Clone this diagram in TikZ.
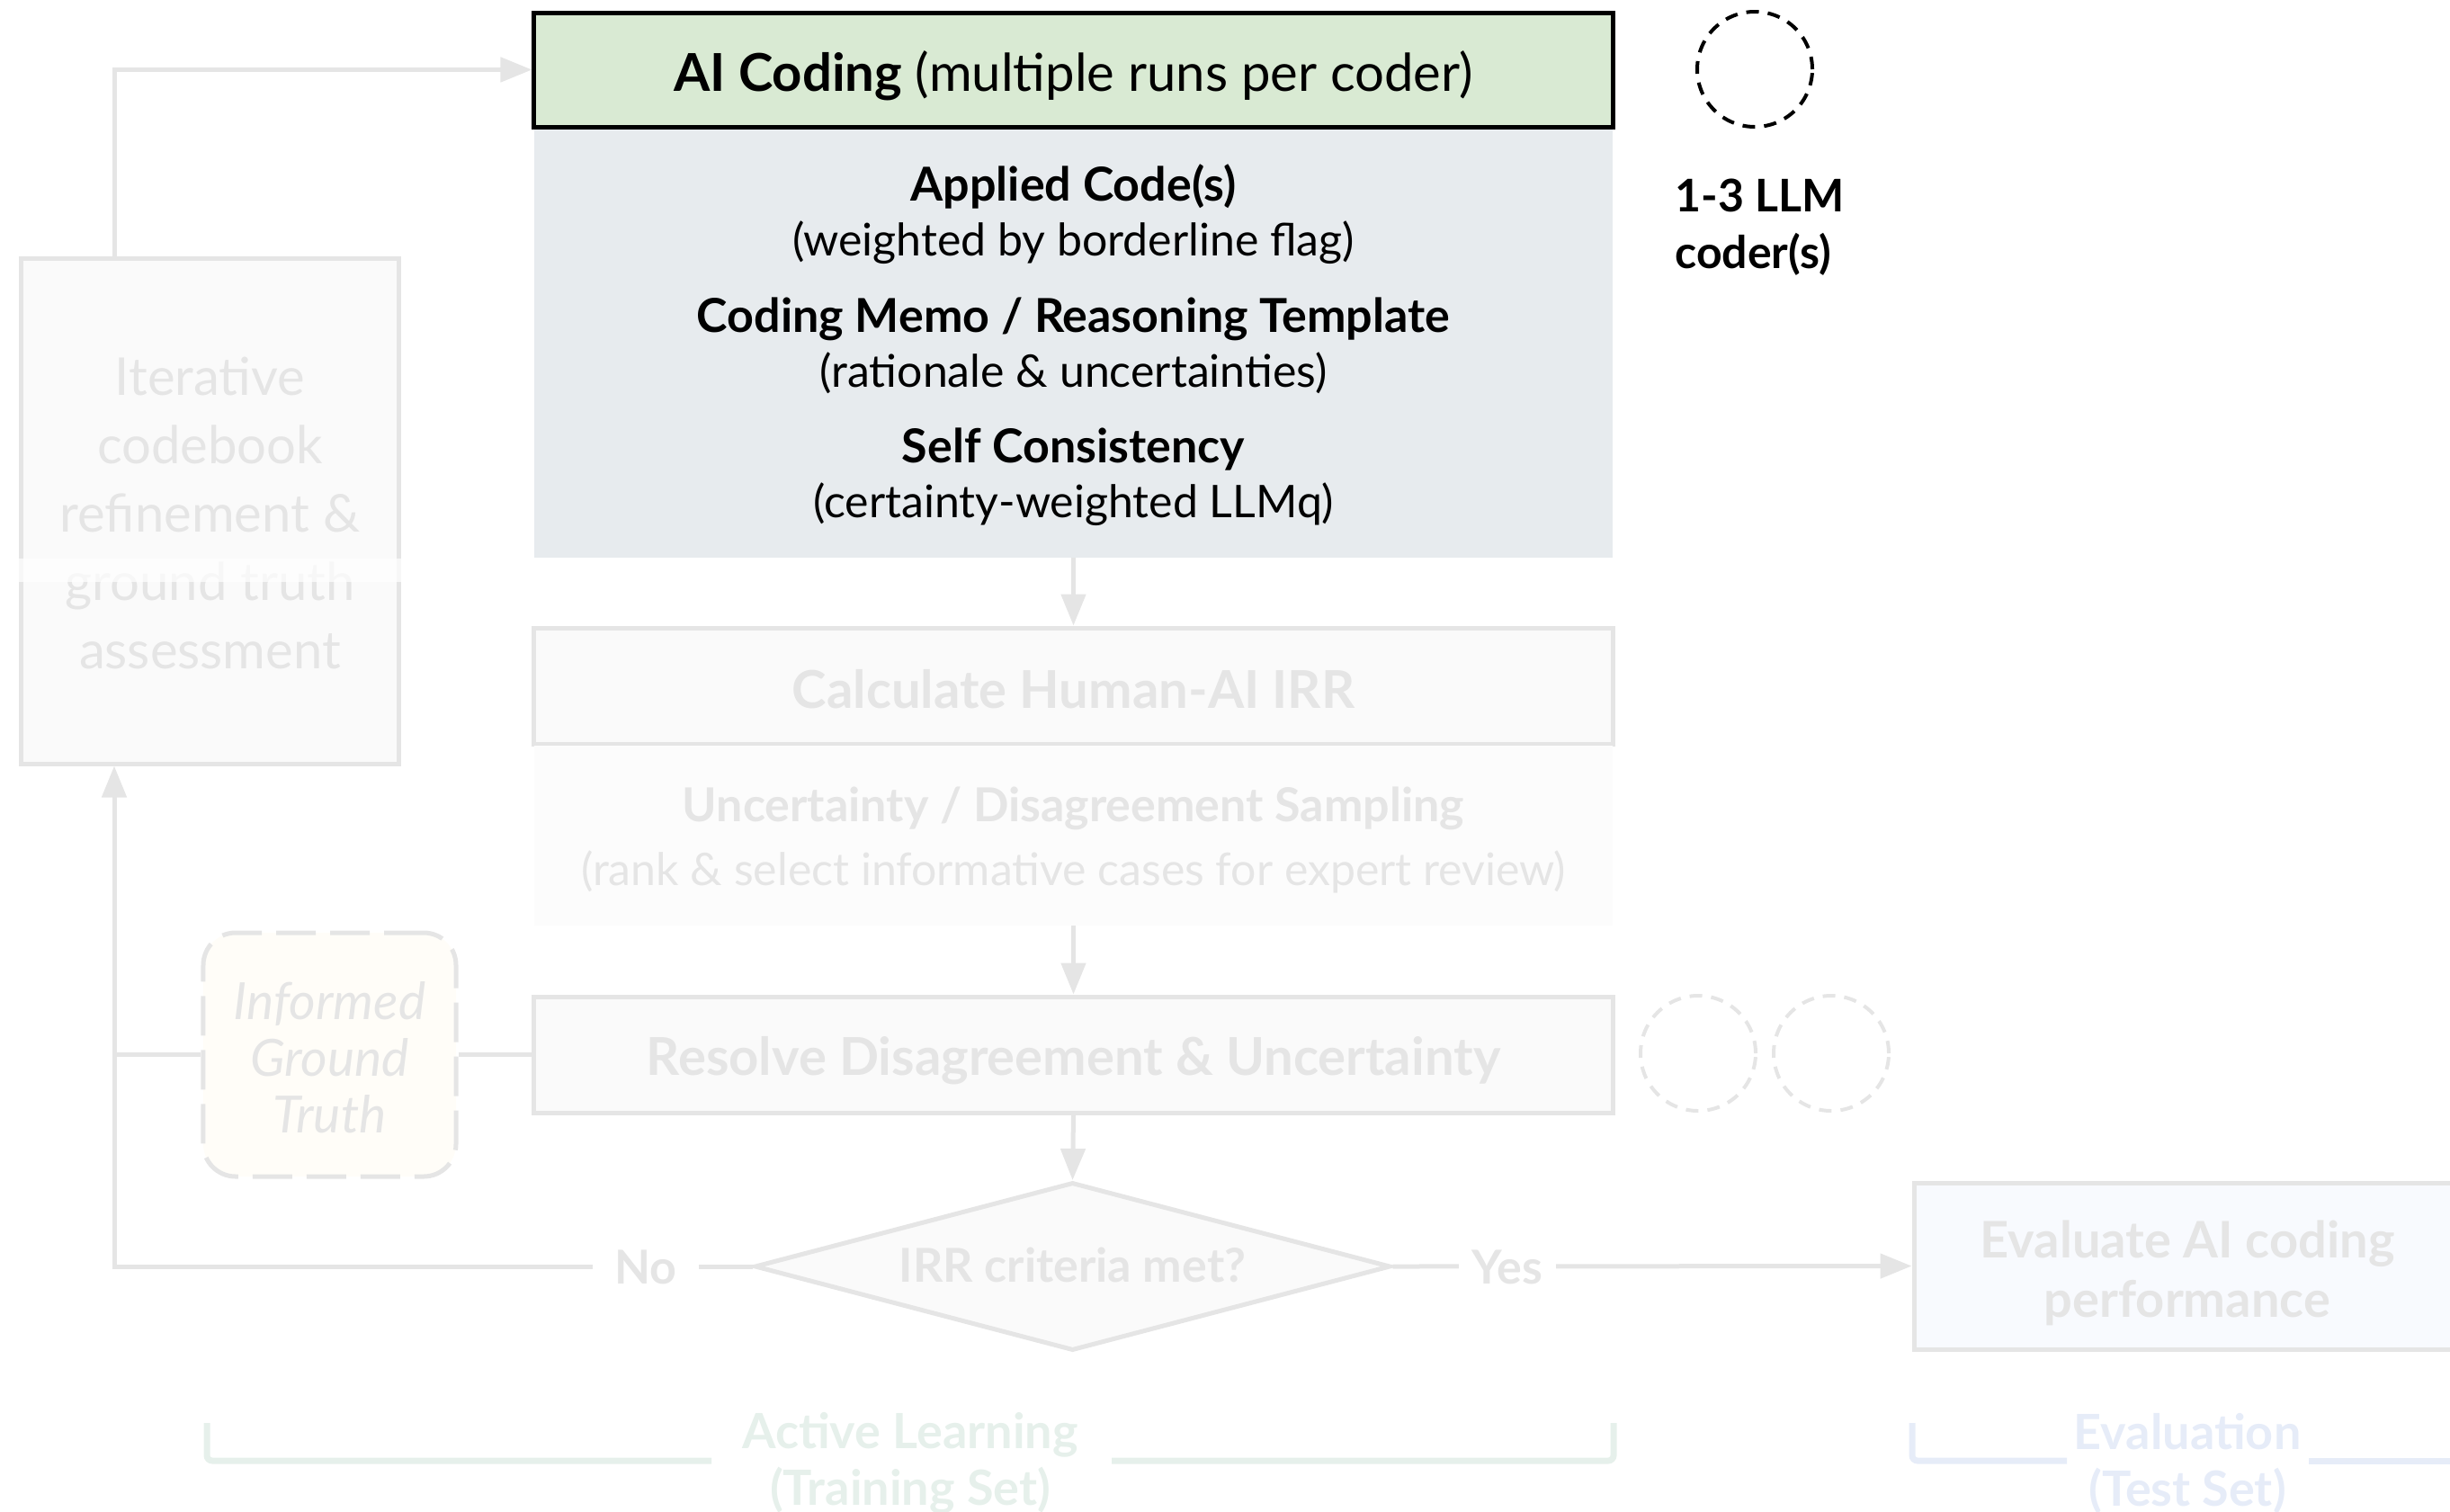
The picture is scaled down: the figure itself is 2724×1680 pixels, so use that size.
\documentclass[tikz,border=0pt]{standalone}
\usepackage{fontspec}
\setmainfont{Lato}
\usetikzlibrary{arrows.meta,shapes.geometric}
\definecolor{lgray}{HTML}{E5E5E5}
\definecolor{boxfill}{HTML}{FAFAFA}
\definecolor{uncfill}{HTML}{FCFCFC}
\definecolor{igtfill}{HTML}{FFFDF8}
\definecolor{evalfill}{HTML}{F8FAFE}
\definecolor{aigreen}{HTML}{D9EAD3}
\definecolor{outgray}{HTML}{E7EBEE}
\definecolor{algreen}{HTML}{E6F0EB}
\definecolor{evblue}{HTML}{E6ECF8}
\newcommand{\fs}[2]{\fontsize{#1bp}{#2bp}\selectfont}
\begin{document}
\begin{tikzpicture}[x=0.5bp,y=-0.5bp,
  txt/.style={align=center,inner sep=0pt},
  gtxt/.style={txt,text=lgray},
  conn/.style={draw=lgray,line width=2.5bp},
  arr/.style={-{Triangle[length=17.5bp,width=13.5bp]}},
  widebox/.style={rectangle,minimum width=599.5bp,inner sep=0pt},
  pbox/.style={widebox,draw=lgray,line width=2.5bp,fill=boxfill,minimum height=64.5bp},
  coder/.style={circle,minimum size=64bp,inner sep=0pt,line width=2bp,dash pattern=on 7bp off 5bp},
  lbl/.style={gtxt,fill=white,font=\fs{26}{31}\bfseries},
  phase/.style={line width=3.5bp,rounded corners=3bp}
]
\useasboundingbox (0,0) rectangle (2724,1680);
\coordinate (vx) at (127,0);

% AI coding stage and its outputs
\node[widebox,fill=outgray,minimum height=239.5bp] (out) at (1193.5,380.5) {};
\node[widebox,draw=black,line width=2.5bp,fill=aigreen,minimum height=63.5bp] (ai) at (1193.5,77.5) {};
\node[txt,font=\fs{29}{33}] (aitxt) at (1193.5,84) {\textbf{AI Coding} (multiple runs per coder)};
\node[txt,font=\fs{26}{30.5}] (o1) at (1193.5,238)
      {\textbf{Applied Code(s)}\\{\fs{25}{30.5}(weighted by borderline flag)}};
\node[txt,font=\fs{26}{30.5}] (o2) at (1193.5,384)
      {\textbf{Coding Memo / Reasoning Template}\\{\fs{25}{30.5}(rationale \& uncertainties)}};
\node[txt,font=\fs{26}{30.5}] (o3) at (1193.5,530)
      {\textbf{Self Consistency}\\{\fs{25}{30.5}(certainty-weighted LLMq)}};

% LLM coders
\node[coder,draw=black] (llm) at (1951,77) {};
\node[txt,align=left,anchor=west,font=\fs{25}{31.5}\bfseries] (llmlbl) at (1862,253)
      {1-3 LLM\\coder(s)};

% codebook refinement loop
\node[rectangle,draw=lgray,line width=2.5bp,fill=boxfill,
      minimum width=209.5bp,minimum height=281bp,inner sep=0pt] (iter) at (233.5,568) {};
\node[gtxt,font=\fs{29}{38}] (itertxt) at (233.5,570)
      {Iterative\\codebook\\refinement \&\\ground truth\\assessment};
\fill[white,opacity=0.72] (21,621) rectangle (446,647);

% active learning steps
\node[pbox] (calc) at (1193.5,762.5) {};
\node[gtxt,font=\fs{29}{33}\bfseries] (calctxt) at (1193.5,766) {Calculate Human-AI IRR};
\node[widebox,fill=uncfill,minimum height=100bp] (unc) at (1193.5,929) {};
\node[gtxt,font=\fs{26}{35.5}] (unctxt) at (1193.5,934)
      {\textbf{Uncertainty / Disagreement Sampling}\\{\fs{25}{35.5}(rank \& select informative cases for expert review)}};
\node[pbox] (res) at (1193.5,1172.5) {};
\node[gtxt,font=\fs{29}{33}\bfseries] (restxt) at (1193.5,1179) {Resolve Disagreement \& Uncertainty};
\node[diamond,draw=lgray,line width=2.5bp,fill=boxfill,inner sep=0pt,
      minimum width=353.5bp,minimum height=93.5bp] (dia) at (1192.5,1408) {};
\node[gtxt,font=\fs{26}{31}\bfseries] (diatxt) at (1192.5,1406) {IRR criteria met?};
\node[rectangle,draw=lgray,line width=2.5bp,fill=igtfill,rounded corners=18bp,inner sep=0pt,
      dash pattern=on 22bp off 8bp,minimum width=140.5bp,minimum height=135.5bp] (igt) at (366.5,1172.5) {};
\node[gtxt,font=\fs{28.5}{31.5}\itshape] (igttxt) at (366.5,1176) {Informed\\Ground\\Truth};
\node[coder,draw=lgray] (h1) at (1888,1171) {};
\node[coder,draw=lgray] (h2) at (2036,1171) {};

% evaluation
\node[rectangle,draw=lgray,line width=2.5bp,fill=evalfill,inner sep=0pt,
      minimum width=304bp,minimum height=92.5bp] (eval) at (2432,1407.5) {};
\node[gtxt,font=\fs{28}{33}\bfseries] (evaltxt) at (2432,1415) {Evaluate AI coding\\performance};

% connectors
\draw[conn,arr] (iter.north -| vx) |- (ai.west);
\draw[conn,arr] (out.south) -- (calc.north);
\draw[conn,arr] (unc.south) -- (res.north);
\draw[conn,arr] (res.south) -- (dia.north);
\draw[conn] (res.west) -- (igt.east);
\draw[conn] (igt.west) -- (igt.west -| vx);
\draw[conn,arr] (dia.west) -- (dia.west -| vx) -- (iter.south -| vx);
\draw[conn,arr] (dia.east) -- (eval.west);
\node[lbl,inner xsep=12bp] (no) at (718,1409) {No};
\node[lbl,inner xsep=7.5bp] (yes) at (1676,1409) {Yes};

% phase brackets
\draw[algreen,phase] (230,1582) -- (230,1624) -- (791,1624);
\draw[algreen,phase] (1236,1624) -- (1794,1624) -- (1794,1582);
\node[txt,text=algreen,font=\fs{27}{31.5}\bfseries] (al) at (1012,1627)
      {Active Learning\\(Training Set)};
\draw[evblue,phase] (2126,1582) -- (2126,1624) -- (2298,1624);
\draw[evblue,line width=3.5bp] (2567,1624) -- (2740,1624);
\node[txt,text=evblue,font=\fs{27}{31.5}\bfseries] (ev) at (2432,1627)
      {Evaluation\\(Test Set)};
\end{tikzpicture}
\end{document}
